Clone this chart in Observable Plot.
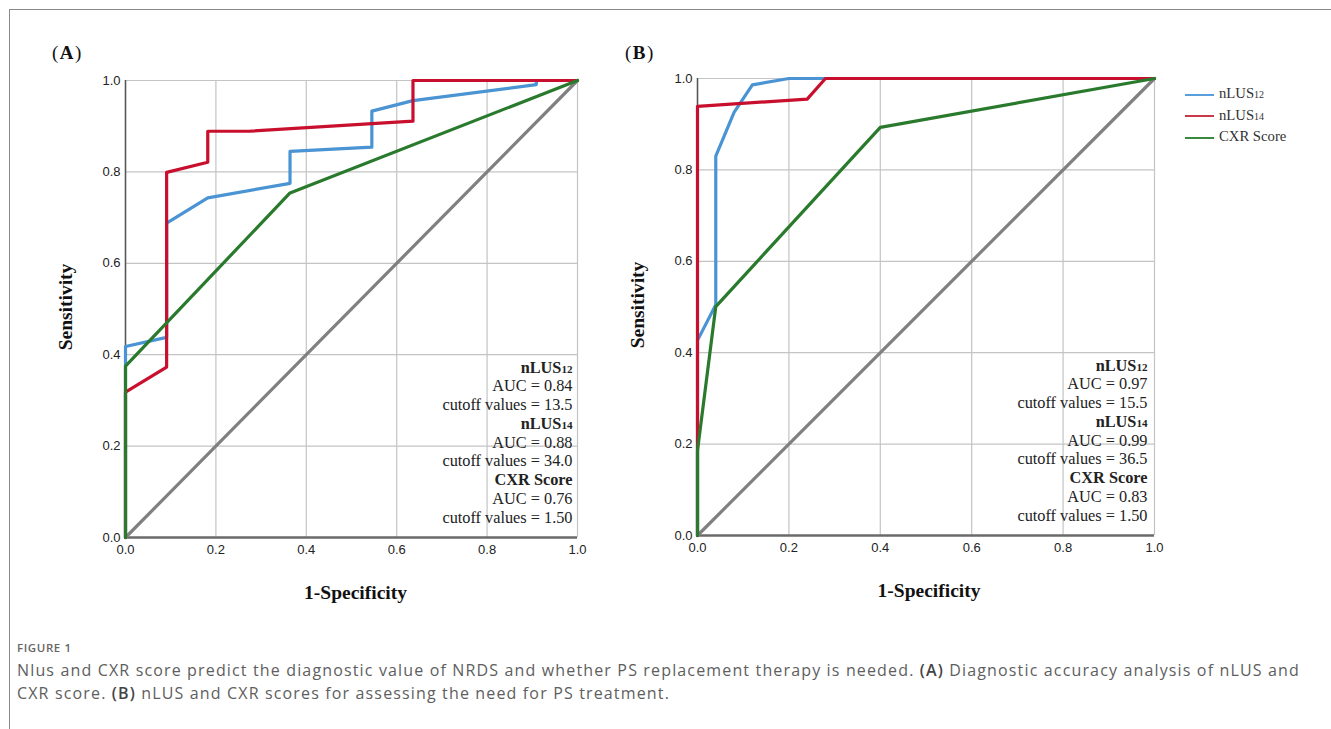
<!DOCTYPE html>
<html>
<head>
<meta charset="utf-8">
<script src="https://cdn.jsdelivr.net/npm/d3@7"></script>
<script src="https://cdn.jsdelivr.net/npm/@observablehq/plot@0.6"></script>
<style>
  html, body { margin: 0; padding: 0; background: #fff; }
  #root { position: relative; width: 1331px; height: 729px; overflow: hidden; background: #fff; }
  .abs { position: absolute; }
  .frameTop { left: 9px; top: 9px; width: 1322px; height: 0; border-top: 1px solid #8a8a8a; }
  .frameLeft { left: 9px; top: 9px; width: 0; height: 720px; border-left: 1px solid #8a8a8a; }
  .panelLabel { font-family: "Liberation Serif", serif; font-size: 19px; color: #111; letter-spacing: 1.5px; }
  .panelLabel b { font-weight: bold; }
  .legend { left: 1185px; top: 83px; font-family: "Liberation Serif", serif; font-size: 14.7px; color: #333; }
  .legend .row { position: relative; height: 21.5px; line-height: 21.5px; white-space: nowrap; }
  .legend .sw { display: inline-block; width: 29px; height: 0; vertical-align: middle; margin-right: 5px; border-top: 2px solid; }
  .legend sub { font-size: 0.68em; vertical-align: baseline; }
  .figno { left: 17px; top: 640px; font-family: "Open Sans", sans-serif; font-size: 11.5px; font-weight: 600; color: #666; letter-spacing: 0.6px; }
  .caption { left: 17px; top: 659px; font-family: "Open Sans", sans-serif; font-size: 16px; color: #5e5e5e; line-height: 23px; white-space: nowrap; letter-spacing: 1.15px; }
  .caption b { font-weight: 600; color: #444; }
</style>
</head>
<body>
<div id="root">
  <div class="abs frameTop"></div>
  <div class="abs frameLeft"></div>
  <div class="abs panelLabel" style="left:52px; top:42px;">(<b>A</b>)</div>
  <div class="abs panelLabel" style="left:625px; top:42px;">(<b>B</b>)</div>
  <div id="plotA" class="abs" style="left:0; top:0;"></div>
  <div id="plotB" class="abs" style="left:620px; top:0;"></div>
  <div id="legend" class="abs legend"></div>
  <div class="abs figno">FIGURE 1</div>
  <div class="abs caption">Nlus and CXR score predict the diagnostic value of NRDS and whether PS replacement therapy is needed. <b>(A)</b> Diagnostic accuracy analysis of nLUS and<br>CXR score. <b>(B)</b> nLUS and CXR scores for assessing the need for PS treatment.</div>
</div>
<script>
// ---------- Data (1-Specificity, Sensitivity) ----------
const ticks = [0, 0.2, 0.4, 0.6, 0.8, 1.0];
const refX = [0, 1];
const refY = [0, 1];

// Panel A
const aNlus12X = [0, 0, 0.091, 0.091, 0.182, 0.364, 0.364, 0.545, 0.545, 0.636, 0.909, 0.909, 1];
const aNlus12Y = [0, 0.418, 0.438, 0.688, 0.743, 0.775, 0.845, 0.854, 0.933, 0.956, 0.991, 1, 1];
const aNlus14X = [0, 0, 0.091, 0.091, 0.182, 0.182, 0.273, 0.636, 0.636, 1];
const aNlus14Y = [0, 0.318, 0.373, 0.799, 0.821, 0.889, 0.889, 0.911, 1, 1];
const aCxrX = [0, 0, 0.364, 1];
const aCxrY = [0, 0.375, 0.754, 1];
const aStats = ["nLUS12", "AUC = 0.84", "cutoff values = 13.5", "nLUS14", "AUC = 0.88", "cutoff values = 34.0", "CXR Score", "AUC = 0.76", "cutoff values = 1.50"];

// Panel B
const bNlus12X = [0, 0, 0.04, 0.04, 0.08, 0.12, 0.2, 1];
const bNlus12Y = [0, 0.427, 0.505, 0.83, 0.926, 0.986, 1, 1];
const bNlus14X = [0, 0, 0.24, 0.28, 1];
const bNlus14Y = [0, 0.939, 0.955, 1, 1];
const bCxrX = [0, 0, 0.04, 0.4, 1];
const bCxrY = [0, 0.186, 0.501, 0.893, 1];
const bStats = ["nLUS12", "AUC = 0.97", "cutoff values = 15.5", "nLUS14", "AUC = 0.99", "cutoff values = 36.5", "CXR Score", "AUC = 0.83", "cutoff values = 1.50"];

const seriesNames = ["nLUS12", "nLUS14", "CXR Score"];
const seriesColors = ["#4a94d4", "#c8102e", "#2a7a2e"];
const legendColors = ["#5a9fdc", "#c83a4a", "#3a8a3e"];
const refColor = "#808080";

// ---------- Helpers ----------
const zip = (xs, ys) => xs.map((x, i) => ({x, y: ys[i]}));
const serif = "Liberation Serif, Times New Roman, serif";

function panel(opts) {
  const {width, height, mL, mR, mT, mB, series, stats, statDx, titleDx} = opts;
  const marks = [
    Plot.gridX(ticks, {stroke: "#c4c4c4", strokeOpacity: 1, strokeWidth: 1.2}),
    Plot.gridY(ticks, {stroke: "#c4c4c4", strokeOpacity: 1, strokeWidth: 1.2}),
    Plot.axisX(ticks, {tickSize: 0, tickPadding: 7, tickFormat: d3.format(".1f"), label: null, fontSize: 13, fill: "#222"}),
    Plot.axisY(ticks, {tickSize: 0, tickPadding: 5, tickFormat: d3.format(".1f"), label: null, fontSize: 13, fill: "#222"}),
    Plot.ruleY([0], {stroke: "#6a6a6a", strokeWidth: 2.5}),
    Plot.ruleX([0], {stroke: "#555", strokeWidth: 1.5}),
    Plot.line(zip(refX, refY), {x: "x", y: "y", stroke: refColor, strokeWidth: 3.2}),
    Plot.line(zip(series[0][0], series[0][1]), {x: "x", y: "y", stroke: seriesColors[0], strokeWidth: 3.2}),
    Plot.line(zip(series[1][0], series[1][1]), {x: "x", y: "y", stroke: seriesColors[1], strokeWidth: 3.2}),
    Plot.line(zip(series[2][0], series[2][1]), {x: "x", y: "y", stroke: seriesColors[2], strokeWidth: 3.2}),
    Plot.text(["1-Specificity"], {frameAnchor: "bottom", textAnchor: "middle", dx: titleDx, dy: 61, fontFamily: serif, fontSize: 19.5, fontWeight: "bold", fill: "#111"}),
    Plot.text(["Sensitivity"], {frameAnchor: "left", textAnchor: "middle", dx: -60, dy: -2, rotate: -90, fontFamily: serif, fontSize: 19.5, fontWeight: "bold", fill: "#111"}),
    ...stats.map((t, i) => Plot.text([t], {
      frameAnchor: "bottom-right", textAnchor: "end", dx: statDx, dy: -15 - (stats.length - 1 - i) * 18.75,
      fontFamily: serif, fontSize: 16.3, fontWeight: (i % 3 === 0) ? "bold" : "normal", fill: "#222"
    }))
  ];
  const svg = Plot.plot({
    width, height,
    marginLeft: mL, marginRight: mR, marginTop: mT, marginBottom: mB,
    x: {domain: [0, 1]},
    y: {domain: [0, 1]},
    style: {background: "transparent", fontFamily: "Liberation Sans, Arial, sans-serif", fontSize: "13px", overflow: "visible"},
    marks
  });
  // subscripts
  d3.select(svg).selectAll("text").each(function() {
    const t = this.textContent;
    if (t === "nLUS12" || t === "nLUS14") {
      const sel = d3.select(this);
      sel.text("nLUS");
      sel.append("tspan").attr("font-size", "0.68em").text(t.slice(4));
    }
  });
  return svg;
}

document.getElementById("plotA").appendChild(panel({
  width: 620, height: 620, mL: 125, mR: 43, mT: 80, mB: 83,
  series: [[aNlus12X, aNlus12Y], [aNlus14X, aNlus14Y], [aCxrX, aCxrY]],
  stats: aStats, statDx: -5, titleDx: 4
}));
document.getElementById("plotB").appendChild(panel({
  width: 620, height: 620, mL: 77, mR: 86, mT: 78, mB: 85,
  series: [[bNlus12X, bNlus12Y], [bNlus14X, bNlus14Y], [bCxrX, bCxrY]],
  stats: bStats, statDx: -7, titleDx: 3
}));

// legend
const lg = d3.select("#legend");
seriesNames.forEach((n, i) => {
  const row = lg.append("div").attr("class", "row");
  row.append("span").attr("class", "sw").style("border-color", legendColors[i]);
  const m = n.match(/^(nLUS)(\d+)$/);
  if (m) { row.append("span").text(m[1]); row.append("sub").text(m[2]); }
  else row.append("span").text(n);
});
</script>
</body>
</html>
